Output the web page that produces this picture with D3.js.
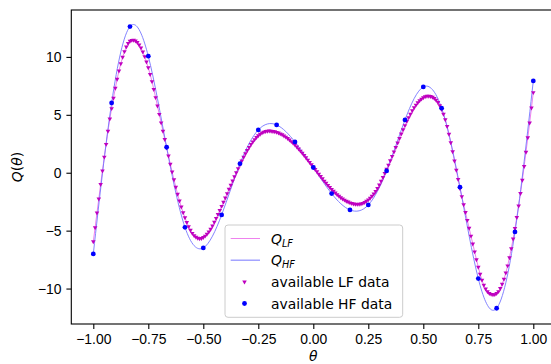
<!DOCTYPE html>
<html>
<head>
<meta charset="utf-8">
<script src="https://cdn.jsdelivr.net/npm/d3@7"></script>
<style>
  body { margin: 0; background: #fff; }
  svg { display: block; font-family: "DejaVu Sans", sans-serif; }
  .axis text { font-size: 13.9px; fill: #000; }
  .axis line { stroke: #000; stroke-width: 1.1px; }
</style>
</head>
<body>
<div id="chart"></div>
<script>
// high fidelity samples, theta = -1 .. 1 step 1/12
const hfTheta = [-1, -0.9167, -0.8333, -0.75, -0.6667, -0.5833, -0.5, -0.4167, -0.3333, -0.25, -0.1667, -0.0833,
                 0, 0.0833, 0.1667, 0.25, 0.3333, 0.4167, 0.5, 0.5833, 0.6667, 0.75, 0.8333, 0.9167, 1];
const hfValues = [-7.01, 6.03, 12.62, 10.06, 2.2, -4.71, -6.49, -3.64, 0.78, 3.7, 4.13, 2.66,
                  0.45, -1.8, -3.21, -2.78, 0.16, 4.56, 7.41, 5.57, -1.25, -9.14, -11.7, -5.11, 7.93];

// low fidelity samples on a 241 point grid over [-1, 1]
const lfTheta = d3.range(241).map(i => -1 + i / 120);
const lfValues = [
  -5.94, -4.73, -3.47, -2.26, -1.0, 0.16, 1.36, 2.46, 3.6, 4.65,
  5.55, 6.45, 7.3, 8.08, 8.8, 9.42, 9.98, 10.47, 10.87, 11.17,
  11.36, 11.44, 11.45, 11.38, 11.25, 11.05, 10.78, 10.44, 10.04, 9.58,
  9.07, 8.5, 7.88, 7.2, 6.5, 5.78, 5.05, 4.32, 3.6, 2.88,
  2.16, 1.45, 0.75, 0.07, -0.6, -1.24, -1.85, -2.42, -2.95, -3.44,
  -3.88, -4.28, -4.64, -4.96, -5.22, -5.42, -5.56, -5.65, -5.68, -5.66,
  -5.58, -5.46, -5.3, -5.1, -4.86, -4.58, -4.27, -3.94, -3.6, -3.25,
  -2.89, -2.53, -2.16, -1.79, -1.42, -1.06, -0.7, -0.34, 0.01, 0.36,
  0.7, 1.03, 1.35, 1.65, 1.94, 2.2, 2.45, 2.67, 2.87, 3.05,
  3.2, 3.33, 3.44, 3.52, 3.57, 3.6, 3.61, 3.6, 3.58, 3.55,
  3.5, 3.45, 3.37, 3.29, 3.19, 3.09, 2.97, 2.84, 2.7, 2.55,
  2.4, 2.23, 2.06, 1.88, 1.69, 1.5, 1.3, 1.1, 0.9, 0.7,
  0.5, 0.29, 0.09, -0.12, -0.32, -0.51, -0.71, -0.9, -1.08, -1.26,
  -1.43, -1.59, -1.74, -1.88, -2.02, -2.14, -2.25, -2.35, -2.44, -2.52,
  -2.59, -2.64, -2.68, -2.71, -2.72, -2.71, -2.68, -2.63, -2.55, -2.45,
  -2.33, -2.19, -2.02, -1.83, -1.61, -1.35, -1.05, -0.73, -0.39, -0.04,
  0.31, 0.67, 1.04, 1.42, 1.8, 2.19, 2.58, 2.97, 3.35, 3.72,
  4.08, 4.43, 4.76, 5.07, 5.36, 5.62, 5.85, 6.05, 6.22, 6.37,
  6.49, 6.57, 6.61, 6.61, 6.59, 6.53, 6.43, 6.28, 6.07, 5.8,
  5.47, 5.07, 4.58, 4.0, 3.34, 2.6, 1.82, 1.03, 0.23, -0.57,
  -1.36, -2.05, -2.75, -3.42, -4.1, -4.78, -5.46, -6.14, -6.82, -7.5,
  -8.15, -8.75, -9.27, -9.7, -10.03, -10.27, -10.42, -10.49, -10.52, -10.51,
  -10.42, -10.25, -9.98, -9.62, -9.18, -8.65, -8.03, -7.33, -6.55, -5.7,
  -4.8, -3.85, -2.85, -1.78, -0.64, 0.55, 1.78, 3.03, 4.3, 5.6,
  6.93
];

const xTicks = [-1, -0.75, -0.5, -0.25, 0, 0.25, 0.5, 0.75, 1];
const yTicks = [-10, -5, 0, 5, 10];

const width = 551, height = 364;
const margin = {top: 10, left: 71.3, bottom: 40, plotRight: 555.3};

const svg = d3.select('#chart').append('svg')
    .attr('width', width)
    .attr('height', height);

const x = d3.scaleLinear([-1.1, 1.1], [margin.left, margin.plotRight]);
const y = d3.scaleLinear([-13.06, 14.05], [height - margin.bottom, margin.top]);

const lf = lfTheta.map((t, i) => ({t: t, v: lfValues[i]}));
const hf = hfTheta.map((t, i) => ({t: t, v: hfValues[i]}));

// lines
const lfLine = d3.line().x(d => x(d.t)).y(d => y(d.v));
const hfLine = d3.line().x(d => x(d.t)).y(d => y(d.v)).curve(d3.curveNatural);

svg.append('path').datum(lf)
    .attr('d', lfLine)
    .attr('fill', 'none')
    .attr('stroke', '#ee82ee')
    .attr('stroke-width', 1);

svg.append('path').datum(hf)
    .attr('d', hfLine)
    .attr('fill', 'none')
    .attr('stroke', '#7575ff')
    .attr('stroke-width', 0.9);

// markers
const tri = d3.symbol().type(d3.symbolTriangle).size(9);
svg.append('g').selectAll('path')
    .data(lf)
    .join('path')
    .attr('d', tri)
    .attr('transform', d => `translate(${x(d.t)},${y(d.v)}) rotate(180)`)
    .attr('fill', '#bf00bf');

svg.append('g').selectAll('circle')
    .data(hf)
    .join('circle')
    .attr('cx', d => x(d.t))
    .attr('cy', d => y(d.v))
    .attr('r', 2.4)
    .attr('fill', '#0000ff');

// axes
const fmtX = d => d3.format('.2f')(d).replace('-', '\u2212');
const fmtY = d => String(d).replace('-', '\u2212');

const xAxis = svg.append('g')
    .attr('class', 'axis')
    .attr('transform', `translate(0,${height - margin.bottom})`)
    .call(d3.axisBottom(x).tickValues(xTicks).tickFormat(fmtX).tickSize(4.9).tickSizeOuter(0).tickPadding(4.9));
xAxis.select('.domain').remove();

const yAxis = svg.append('g')
    .attr('class', 'axis')
    .attr('transform', `translate(${margin.left},0)`)
    .call(d3.axisLeft(y).tickValues(yTicks).tickFormat(fmtY).tickSize(4.9).tickSizeOuter(0).tickPadding(4.9));
yAxis.select('.domain').remove();

// frame
svg.append('rect')
    .attr('x', margin.left)
    .attr('y', margin.top)
    .attr('width', margin.plotRight - margin.left)
    .attr('height', height - margin.bottom - margin.top)
    .attr('fill', 'none')
    .attr('stroke', '#000')
    .attr('stroke-width', 1.1);

// axis labels
svg.append('text')
    .attr('x', x(0))
    .attr('y', 361)
    .attr('text-anchor', 'middle')
    .style('font-size', '13.9px')
    .style('font-style', 'italic')
    .text('\u03b8');

const yl = svg.append('text')
    .attr('transform', `translate(22,167) rotate(-90)`)
    .attr('text-anchor', 'middle')
    .style('font-size', '13.9px');
yl.append('tspan').style('font-style', 'italic').text('Q');
yl.append('tspan').text('(');
yl.append('tspan').style('font-style', 'italic').text('\u03b8');
yl.append('tspan').text(')');

// legend
const legend = svg.append('g');
legend.append('rect')
    .attr('x', 225).attr('y', 225)
    .attr('width', 177.7).attr('height', 92.3)
    .attr('rx', 3)
    .attr('fill', 'rgba(255,255,255,0.8)')
    .attr('stroke', '#cccccc')
    .attr('stroke-width', 1);

const rows = [
  {kind: 'line', color: '#ee82ee', sub: 'LF'},
  {kind: 'line', color: '#7575ff', sub: 'HF'},
  {kind: 'tri', label: 'available LF data'},
  {kind: 'dot', label: 'available HF data'}
];
const rowY = d3.scalePoint().domain(d3.range(rows.length)).range([238.5, 303.5]);

rows.forEach((r, i) => {
  const cy = rowY(i);
  if (r.kind === 'line') {
    legend.append('line')
      .attr('x1', 230.7).attr('x2', 260)
      .attr('y1', cy).attr('y2', cy)
      .attr('stroke', r.color).attr('stroke-width', 1);
    const t = legend.append('text')
      .attr('x', 271).attr('y', cy + 5)
      .style('font-size', '13.9px');
    t.append('tspan').style('font-style', 'italic').text('Q');
    t.append('tspan').style('font-style', 'italic').style('font-size', '9.7px')
      .attr('dy', 3).text(r.sub);
  } else {
    if (r.kind === 'tri') {
      legend.append('path').attr('d', tri)
        .attr('transform', `translate(244.5,${cy}) rotate(180)`)
        .attr('fill', '#bf00bf');
    } else {
      legend.append('circle').attr('cx', 244.5).attr('cy', cy)
        .attr('r', 2.4).attr('fill', '#0000ff');
    }
    legend.append('text')
      .attr('x', 271).attr('y', cy + 5)
      .style('font-size', '13.9px')
      .text(r.label);
  }
});
</script>
</body>
</html>
